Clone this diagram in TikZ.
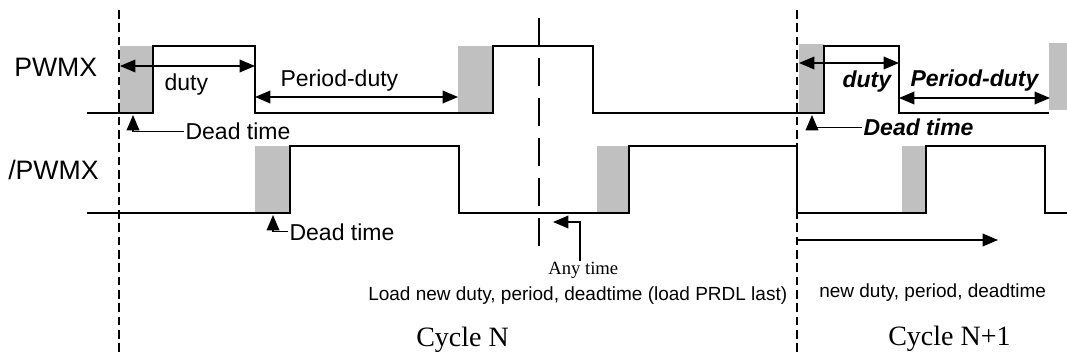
\documentclass[tikz,border=0pt]{standalone}
\usepackage{fontspec}
\setmainfont{Liberation Serif}
\setsansfont{Liberation Sans}
\usetikzlibrary{arrows.meta}
\definecolor{dtgray}{HTML}{C0C0C0}
\begin{document}
\begin{tikzpicture}[x=0.75pt,y=-0.75pt,
  sig/.style={line width=1.1pt, line join=miter},
  dtbox/.style={fill=dtgray, draw=none},
  vdash/.style={line width=0.9pt, dash pattern=on 6.5pt off 3.5pt},
  vdashlong/.style={line width=0.9pt, dash pattern=on 21pt off 9pt},
  arr/.style={line width=1pt,-{Triangle[length=11.5pt,width=9.5pt]}},
  darr/.style={line width=1pt,{Triangle[length=11.5pt,width=9.5pt]}-{Triangle[length=11.5pt,width=9.5pt]}},
  lbl/.style={inner ysep=0pt, inner xsep=1pt, anchor=base west, font=\fontsize{17.25pt}{20pt}\selectfont\sffamily},
  blbl/.style={inner ysep=0pt, inner xsep=1pt, anchor=base west, font=\fontsize{17.25pt}{20pt}\selectfont\sffamily\bfseries\itshape},
  siglbl/.style={inner sep=0pt, anchor=base west, font=\fontsize{20pt}{24pt}\selectfont\sffamily},
  note/.style={inner sep=0pt, anchor=base west, font=\fontsize{14.25pt}{17pt}\selectfont\sffamily},
  anylbl/.style={inner sep=0pt, anchor=base west, font=\fontsize{14pt}{17pt}\selectfont\rmfamily},
  cyc/.style={inner sep=0pt, anchor=base west, font=\fontsize{21pt}{25pt}\selectfont\rmfamily}
]
\useasboundingbox (0,0) rectangle (1067,356);

% dead-time gray boxes
\fill[dtbox] (120,46) rectangle (153,113);
\fill[dtbox] (458,46) rectangle (493,113);
\fill[dtbox] (799,44) rectangle (824,113);
\fill[dtbox] (1049,43) rectangle (1067,110);
\fill[dtbox] (255,146) rectangle (290,213);
\fill[dtbox] (597,146) rectangle (629,213);
\fill[dtbox] (902,146) rectangle (926,213);

% vertical cycle markers
\coordinate (vl1) at (119,10);
\coordinate (vl2) at (119,356);
\coordinate (vr1) at (797,10);
\coordinate (vr2) at (797,356);
\coordinate (vm1) at (539,18);
\coordinate (vm2) at (539,248);
\draw[vdash] (vl1) -- (vl2);
\draw[vdash] (vr1) -- (vr2);
\draw[vdashlong] (vm1) -- (vm2);

% PWMX signal
\draw[sig] (87,113) -- (153,113) -- (153,46) -- (255,46) -- (255,113)
  -- (493,113) -- (493,46) -- (593,46) -- (593,113) -- (824,113)
  -- (824,46) -- (899,46) -- (899,113) -- (1049,113);

% /PWMX signal
\draw[sig] (87,213) -- (290,213) -- (290,146) -- (459,146) -- (459,213)
  -- (629,213) -- (629,146) -- (797,146) -- (797,213) -- (926,213)
  -- (926,146) -- (1045,146) -- (1045,213) -- (1067,213);

% signal names
\node[siglbl] (pwmx) at (14,77) {PWMX};
\node[siglbl] (npwmx) at (8,180) {/PWMX};

% cycle N annotations
\coordinate (d1a) at (120,66);
\coordinate (d1b) at (255,66);
\draw[darr] (d1a) -- (d1b);
\node[lbl] (duty1) at (163,91) {duty};

\coordinate (p1a) at (255,97);
\coordinate (p1b) at (458,97);
\draw[darr] (p1a) -- (p1b);
\node[lbl] (pd1) at (279,87) {Period-duty};

\coordinate (dt1tip) at (133,115);
\node[lbl] (dt1) at (184,140) {Dead time};
\draw[arr] (dt1.west) -| (dt1tip);

\coordinate (dt2tip) at (273,215);
\node[lbl] (dt2) at (288,240) {Dead time};
\draw[arr] (dt2.west) -| (dt2tip);

% cycle N+1 annotations
\coordinate (d2a) at (799,63);
\coordinate (d2b) at (899,63);
\draw[darr] (d2a) -- (d2b);
\node[blbl] (duty2) at (841,88) {duty};

\coordinate (p2a) at (899,98);
\coordinate (p2b) at (1050,98);
\draw[darr] (p2a) -- (p2b);
\node[blbl] (pd2) at (909,87) {Period-duty};

\coordinate (dt3tip) at (812,115);
\node[blbl] (dt3) at (862,136) {Dead time};
\draw[arr] (dt3.west) -| (dt3tip);

% any time
\coordinate (anytip) at (553,222);
\coordinate (anyx) at (580,0);
\node[anylbl] (any) at (548,274) {Any time};
\draw[arr] (any.north -| anyx) |- (anytip);

% new duty arrow
\coordinate (nda) at (797,240);
\coordinate (ndb) at (998,240);
\draw[arr] (nda) -- (ndb);

% notes
\node[note] (load) at (368,300) {Load new duty, period, deadtime (load PRDL last)};
\node[note] (newd) at (819,297) {new duty, period, deadtime};
\node[cyc] (cycn) at (416,346) {Cycle N};
\node[cyc] (cycn1) at (888,345) {Cycle N+1};
\end{tikzpicture}
\end{document}
